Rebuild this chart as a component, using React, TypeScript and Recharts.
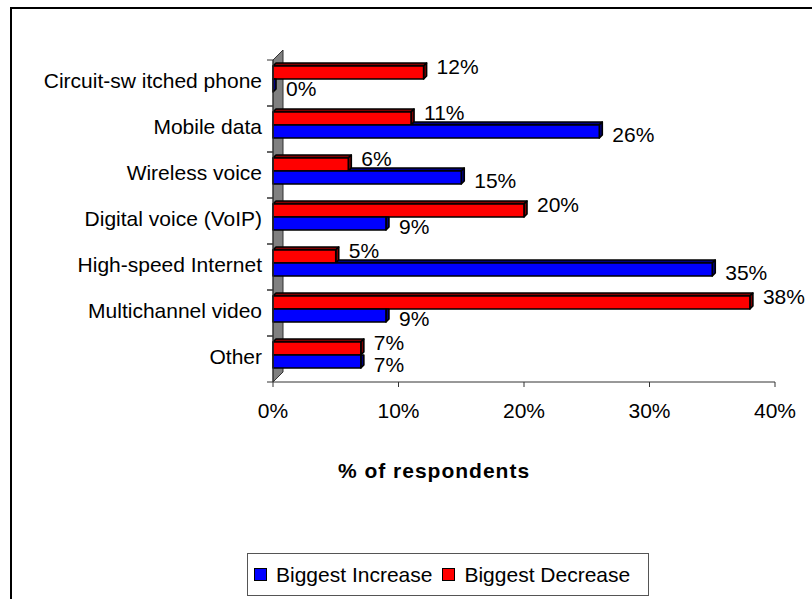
import { BarChart, Bar, XAxis, YAxis, LabelList, ReferenceArea } from "recharts";

const categories = [
  "Circuit-sw itched phone",
  "Mobile data",
  "Wireless voice",
  "Digital voice (VoIP)",
  "High-speed Internet",
  "Multichannel video",
  "Other",
];
const increase = [0, 26, 15, 9, 35, 9, 7];
const decrease = [12, 11, 6, 20, 5, 38, 7];
const xTicks = [0, 10, 20, 30, 40];
const seriesNames = ["Biggest Increase", "Biggest Decrease"];
const seriesColors = ["#0000FF", "#FF0000"];
const seriesDark = ["#000080", "#800000"];

const data = categories.map((name, i) => ({
  name,
  increase: increase[i],
  decrease: decrease[i],
}));

const FONT = '"Liberation Sans", Arial, sans-serif';
const DEPTH = 3; // bar 3d depth
const LIFT = 4; // perspective shift of bars inside the band
const WALL = 10; // side wall depth
const EDGE = 1.6;

// red bar sits in front, so it is drawn whole
function FrontBox(props: any) {
  const { x, y, width, height } = props;
  const w = Math.max(width || 0, 0);
  const top = y - LIFT;
  const bottom = top + height;
  const right = x + w;
  return (
    <g stroke="#000" strokeWidth={EDGE} strokeLinejoin="round">
      <polygon
        points={`${x},${top} ${x + DEPTH},${top - DEPTH} ${right + DEPTH},${top - DEPTH} ${right},${top}`}
        fill={seriesDark[1]}
      />
      <polygon
        points={`${right},${top} ${right + DEPTH},${top - DEPTH} ${right + DEPTH},${bottom - DEPTH} ${right},${bottom}`}
        fill={seriesDark[1]}
      />
      <rect x={x} y={top} width={w} height={height} fill={seriesColors[1]} />
    </g>
  );
}

// blue bar sits under the red one, its top face is partly hidden by it
function BackBox(props: any) {
  const { x, y, width, height, payload } = props;
  const w = Math.max(width || 0, 0);
  const top = y - LIFT;
  const bottom = top + height;
  const right = x + w;
  const cover =
    payload.increase > 0 ? (w * payload.decrease) / payload.increase : Infinity;
  const side =
    cover < w
      ? `${right},${top} ${right + DEPTH},${top - DEPTH} ${right + DEPTH},${bottom - DEPTH} ${right},${bottom}`
      : `${right},${top} ${right + DEPTH},${top} ${right + DEPTH},${bottom - DEPTH} ${right},${bottom}`;
  return (
    <g stroke="#000" strokeWidth={EDGE} strokeLinejoin="round">
      {cover < w && (
        <polygon
          points={`${x + cover},${top} ${x + cover + DEPTH},${top - DEPTH} ${right + DEPTH},${top - DEPTH} ${right},${top}`}
          fill={seriesDark[0]}
        />
      )}
      <polygon points={side} fill={seriesDark[0]} />
      <rect x={x} y={top} width={w} height={height} fill={seriesColors[0]} />
    </g>
  );
}

function Wall(props: any) {
  const { x, y, height } = props;
  return (
    <polygon
      points={`${x},${y} ${x + WALL},${y - WALL} ${x + WALL},${y + height - WALL} ${x},${y + height}`}
      fill="#808080"
      stroke="#333"
      strokeWidth={1}
    />
  );
}

const valueLabel = (dy: number) => (p: any) => (
  <text
    x={p.x + (p.width || 0) + 13}
    y={p.y - LIFT + p.height / 2 + dy}
    dominantBaseline="central"
    fontSize={21}
    fontFamily={FONT}
    fill="#000"
  >
    {p.value}%
  </text>
);

function CategoryTick(props: any) {
  const { x, y, payload } = props;
  const half = payload && payload.offset ? payload.offset : 23;
  return (
    <g>
      <text
        x={x}
        y={y - 3}
        textAnchor="end"
        dominantBaseline="central"
        fontSize={21}
        fontFamily={FONT}
        fill="#000"
      >
        {payload.value}
      </text>
      <line x1={x + 5} x2={x + 11} y1={y - half} y2={y - half} stroke="#333" />
      <line x1={x + 5} x2={x + 11} y1={y + half} y2={y + half} stroke="#333" />
    </g>
  );
}

export default function App() {
  return (
    <div
      style={{
        position: "fixed",
        left: 0,
        top: 0,
        width: 812,
        height: 599,
        overflow: "hidden",
        background: "#fff",
        fontFamily: FONT,
      }}
    >
      <div
        style={{
          position: "absolute",
          left: 10,
          top: 7,
          width: 900,
          height: 700,
          borderTop: "2px solid #000",
          borderLeft: "2px solid #000",
        }}
      />
      <div style={{ position: "absolute", left: 0, top: 0 }}>
        <BarChart
          width={812}
          height={599}
          layout="vertical"
          data={data}
          barSize={13}
          barGap={0}
          margin={{ top: 60, right: 37, bottom: 177, left: 0 }}
          style={{ fontFamily: FONT }}
        >
          <XAxis
            type="number"
            domain={[0, 40]}
            ticks={xTicks}
            tickFormatter={(v: number) => `${v}%`}
            tick={{ fontSize: 21, fill: "#000" }}
            tickSize={5}
            tickMargin={16}
            height={40}
            stroke="#333"
            interval={0}
          />
          <YAxis
            type="category"
            dataKey="name"
            width={273}
            tick={<CategoryTick />}
            tickLine={false}
            tickSize={6}
            tickMargin={5}
            stroke="#333"
            interval={0}
          />
          <ReferenceArea x1={0} x2={1} ifOverflow="visible" shape={<Wall />} />
          <Bar
            dataKey="decrease"
            name={seriesNames[1]}
            fill={seriesColors[1]}
            shape={<FrontBox />}
            isAnimationActive={false}
          >
            <LabelList dataKey="decrease" content={valueLabel(-6)} />
          </Bar>
          <Bar
            dataKey="increase"
            name={seriesNames[0]}
            fill={seriesColors[0]}
            shape={<BackBox />}
            isAnimationActive={false}
          >
            <LabelList dataKey="increase" content={valueLabel(3)} />
          </Bar>
        </BarChart>
      </div>
      <div
        style={{
          position: "absolute",
          left: 284,
          top: 459,
          width: 300,
          textAlign: "center",
          fontSize: 21,
          fontWeight: "bold",
          letterSpacing: 1,
          lineHeight: "24px",
        }}
      >
        % of respondents
      </div>
      <div
        style={{
          position: "absolute",
          left: 247,
          top: 553,
          width: 402,
          height: 43,
          boxSizing: "border-box",
          border: "1px solid #555",
          display: "flex",
          alignItems: "center",
          paddingLeft: 6,
          fontSize: 21,
          whiteSpace: "nowrap",
        }}
      >
        {seriesNames.map((n, i) => (
          <div key={n} style={{ display: "flex", alignItems: "center", marginRight: 10 }}>
            <div
              style={{
                width: 13,
                height: 13,
                boxSizing: "border-box",
                border: "1px solid #000",
                background: seriesColors[i],
                marginRight: 9,
              }}
            />
            <span>{n}</span>
          </div>
        ))}
      </div>
    </div>
  );
}
